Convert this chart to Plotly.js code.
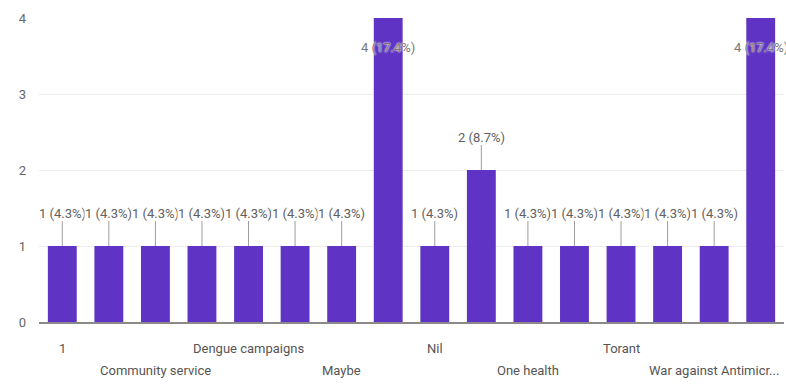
<!DOCTYPE html>
<html>
<head>
<meta charset="utf-8">
<script src="https://cdn.plot.ly/plotly-3.0.1.min.js"></script>
<style>html,body{margin:0;padding:0;background:#fff;}#chart{width:786px;height:385px;}</style>
</head>
<body>
<div id="chart"></div>
<script>
// Category labels (only every second label is readable in the chart; hidden ones left blank)
const categoryLabels = ["1", "", "Community service", "", "Dengue campaigns", "", "Maybe", "",
                        "Nil", "", "One health", "", "Torant", "", "War against Antimicr...", ""];
const counts = [1, 1, 1, 1, 1, 1, 1, 4, 1, 2, 1, 1, 1, 1, 1, 4];
const yTicks = [0, 1, 2, 3, 4];

const total = counts.reduce((a, b) => a + b, 0);
const xs = counts.map((_, i) => i);
const pct = v => (Math.round(v / total * 1000) / 10).toFixed(1);
const labelText = counts.map(v => `${v} (${pct(v)}%)`);
const maxVal = Math.max(...counts);

const FONT = "Liberation Sans Narrow, Roboto, Arial, sans-serif";
const BAR = "#5f33c3";

const annotations = [];
counts.forEach((v, i) => {
  if (v === maxVal) {
    annotations.push({
      x: i, y: v, xref: "x", yref: "y", text: labelText[i], showarrow: false,
      yanchor: "middle", yshift: -29,
      font: {family: FONT, size: 13, color: "#777", shadow: "0 0 2px #fff, 0 0 2px #fff"}
    });
  } else {
    annotations.push({
      x: i, y: v, xref: "x", yref: "y", text: labelText[i], showarrow: true,
      arrowhead: 0, arrowwidth: 1, arrowcolor: "#9e9e9e", standoff: 0,
      ax: 0, ay: -33, bgcolor: "#ffffff", borderpad: 0,
      font: {family: FONT, size: 13, color: "#616161"}
    });
  }
});
categoryLabels.forEach((lab, i) => {
  if (!lab) return;
  const row = (i / 2) % 2;
  annotations.push({
    x: i, y: 0, xref: "x", yref: "paper", text: lab, showarrow: false,
    yanchor: "middle", yshift: row === 0 ? -26 : -48,
    font: {family: FONT, size: 13, color: "#555"}
  });
});

const data = [{
  type: "bar", x: xs, y: counts, width: 0.62,
  marker: {color: BAR}, hoverinfo: "skip"
}];

const layout = {
  width: 786, height: 385,
  margin: {l: 39, r: 2, t: 18, b: 63},
  paper_bgcolor: "#ffffff", plot_bgcolor: "#ffffff",
  showlegend: false,
  xaxis: {range: [-0.5, 15.5], showticklabels: false, showgrid: false, zeroline: false,
          showline: true, linecolor: "#8a8a8a", linewidth: 1.5, ticks: ""},
  yaxis: {range: [0, 4], tickvals: yTicks, ticktext: yTicks.map(String),
          showgrid: true, gridcolor: "#ececec", zeroline: false, showline: false,
          ticks: "", ticklabelstandoff: 12,
          tickfont: {family: FONT, size: 13, color: "#666"}},
  annotations: annotations,
  font: {family: FONT}
};

Plotly.newPlot("chart", data, layout, {displayModeBar: false, staticPlot: true});
</script>
</body>
</html>
